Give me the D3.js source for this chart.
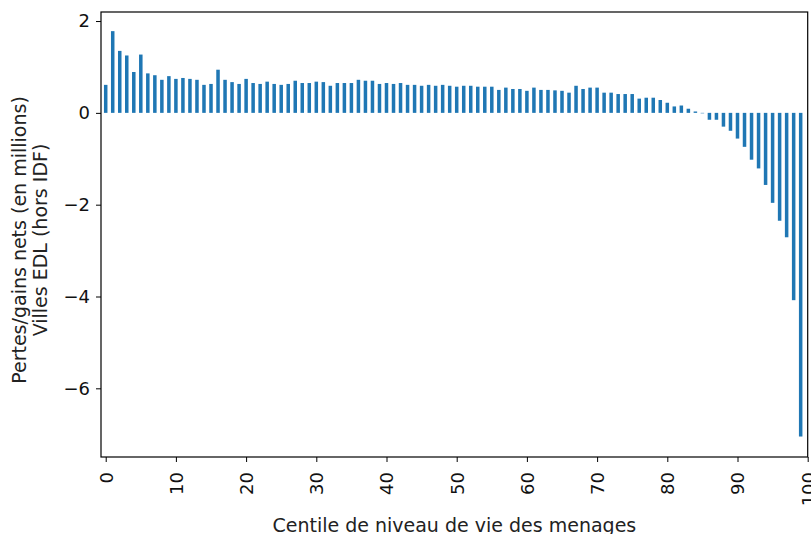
<!DOCTYPE html>
<html>
<head>
<meta charset="utf-8">
<script src="https://cdn.jsdelivr.net/npm/d3@7"></script>
<style>
  body { margin: 0; background: #fff; }
  text { font-family: "DejaVu Sans", sans-serif; }
</style>
</head>
<body>
<svg id="chart"></svg>
<script>
const WIDTH = 811;
const HEIGHT = 534;

// centiles 0..99 and net loss/gain per centile (millions)
const centiles = d3.range(100);
const values = [
  0.61, 1.78, 1.35, 1.25, 0.89, 1.27, 0.86, 0.82, 0.72, 0.80,
  0.74, 0.76, 0.74, 0.72, 0.61, 0.63, 0.94, 0.72, 0.67, 0.63,
  0.74, 0.65, 0.63, 0.68, 0.63, 0.61, 0.63, 0.70, 0.65, 0.65,
  0.68, 0.67, 0.59, 0.65, 0.65, 0.65, 0.72, 0.70, 0.70, 0.63,
  0.65, 0.63, 0.65, 0.61, 0.61, 0.59, 0.61, 0.59, 0.61, 0.59,
  0.57, 0.59, 0.59, 0.57, 0.57, 0.57, 0.50, 0.55, 0.52, 0.52,
  0.48, 0.55, 0.50, 0.50, 0.49, 0.48, 0.44, 0.59, 0.52, 0.55,
  0.55, 0.44, 0.44, 0.41, 0.41, 0.41, 0.31, 0.33, 0.33, 0.28,
  0.22, 0.14, 0.16, 0.09, 0.03, -0.01, -0.15, -0.15, -0.30, -0.39,
  -0.56, -0.74, -1.02, -1.21, -1.57, -1.96, -2.35, -2.71, -4.08, -7.05
];
const xTicks = [0, 10, 20, 30, 40, 50, 60, 70, 80, 90, 100];
const yTicks = [2, 0, -2, -4, -6];
const yLabel = ["Pertes/gains nets (en millions)", "Villes EDL (hors IDF)"];
const xLabel = "Centile de niveau de vie des menages";

// plot area
const plotLeft = 101, plotRight = 807.7, plotTop = 12, plotBottom = 457;

const scaleX = d3.scaleLinear([-0.67, 100], [plotLeft, plotRight]);
const scaleY = d3.scaleLinear([-7.496, 2.197], [plotBottom, plotTop]);

const canvas = d3.select('#chart')
    .attr('width', WIDTH)
    .attr('height', HEIGHT);

// bars (width 0.5 like pandas)
canvas.append('g')
    .selectAll('rect')
    .data(centiles)
    .enter()
    .append('rect')
    .attr('fill', '#1f77b4')
    .attr('x', i => scaleX(i - 0.25))
    .attr('width', i => scaleX(i + 0.25) - scaleX(i - 0.25))
    .attr('y', i => scaleY(Math.max(0, values[i])))
    .attr('height', i => Math.abs(scaleY(values[i]) - scaleY(0)));

// y axis
const yAxis = canvas.append('g')
    .attr('transform', `translate(${plotLeft},0)`)
    .call(d3.axisLeft(scaleY).tickValues(yTicks).tickSize(5).tickPadding(6).tickFormat(d3.format('d')));
yAxis.select('.domain').remove();
yAxis.selectAll('text').attr('font-size', 18).attr('fill', '#111').attr('font-family', '"DejaVu Sans", sans-serif');
yAxis.selectAll('line').attr('stroke', '#000');

// x axis with rotated labels
const xAxis = canvas.append('g')
    .attr('transform', `translate(0,${plotBottom})`)
    .call(d3.axisBottom(scaleX).tickValues(xTicks).tickSize(5));
xAxis.select('.domain').remove();
xAxis.selectAll('line').attr('stroke', '#000');
xAxis.selectAll('text')
    .attr('font-size', 18)
    .attr('fill', '#111')
    .attr('font-family', '"DejaVu Sans", sans-serif')
    .attr('x', 0)
    .attr('y', 0)
    .attr('dy', '0.36em')
    .attr('text-anchor', 'end')
    .attr('transform', 'translate(0,15) rotate(-90)');

// frame
canvas.append('rect')
    .attr('x', plotLeft)
    .attr('y', plotTop)
    .attr('width', plotRight - plotLeft)
    .attr('height', plotBottom - plotTop)
    .attr('fill', 'none')
    .attr('stroke', '#000')
    .attr('stroke-width', 1.2);

// axis titles
canvas.append('g')
    .selectAll('text')
    .data(yLabel)
    .enter()
    .append('text')
    .attr('font-size', 19)
    .attr('fill', '#222')
    .attr('text-anchor', 'middle')
    .attr('transform', (d, i) => `translate(${26.3 + i * 20.6},240) rotate(-90)`)
    .text(d => d);

canvas.append('text')
    .attr('x', (plotLeft + plotRight) / 2)
    .attr('y', 531.5)
    .attr('font-size', 19)
    .attr('fill', '#222')
    .attr('text-anchor', 'middle')
    .text(xLabel);
</script>
</body>
</html>
